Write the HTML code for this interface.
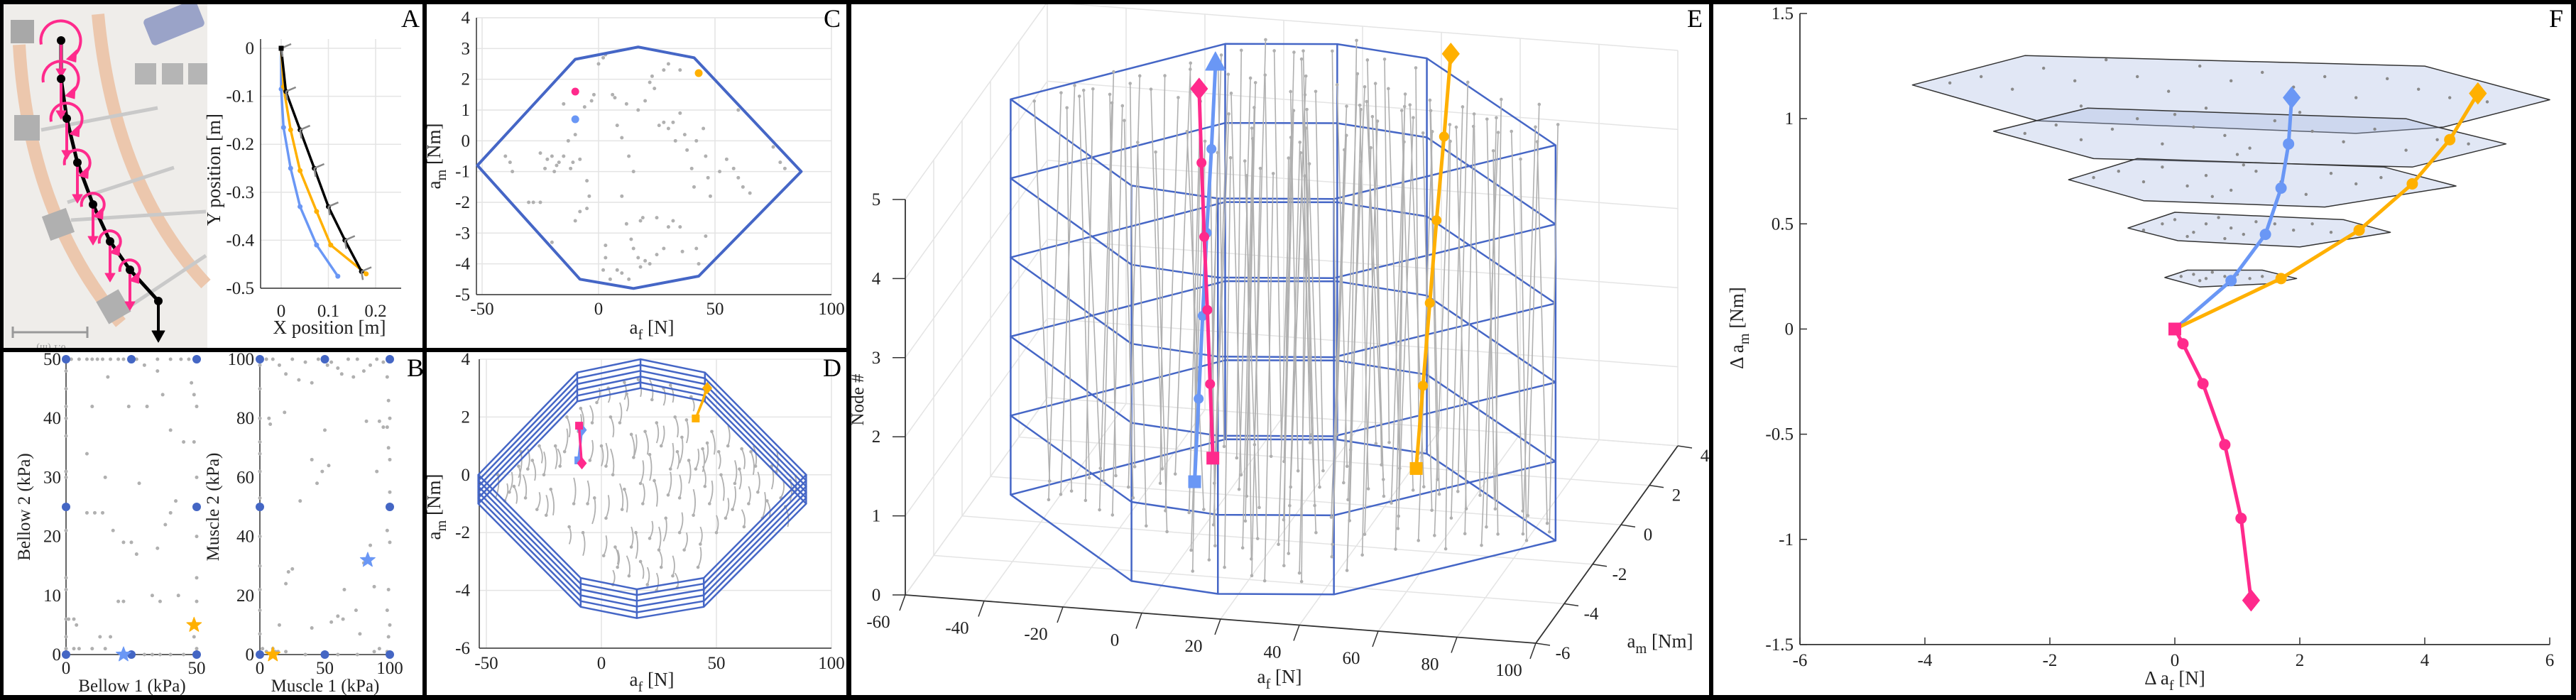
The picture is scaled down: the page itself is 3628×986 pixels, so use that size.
<!DOCTYPE html>
<html><head><meta charset="utf-8">
<style>
html,body{margin:0;padding:0;background:#fff;}
svg{display:block;font-family:"Liberation Serif",serif;}
text{font-family:"Liberation Serif",serif;}
</style></head>
<body>
<svg id="fig" xmlns="http://www.w3.org/2000/svg" width="3628" height="986" viewBox="0 0 3628 986" font-family="Liberation Serif, serif">
  <rect x="0" y="0" width="3628" height="986" fill="#fff"/>
  <g id="photo">
    <rect x="5" y="5" width="287" height="485" fill="#efedea"/>
    <path d="M27,63 Q40,300 170,455" stroke="#ecc7ad" stroke-width="18" fill="none"/>
    <path d="M138,20 Q160,260 290,400" stroke="#ecc7ad" stroke-width="18" fill="none"/>
    <line x1="58" y1="183" x2="222" y2="152" stroke="#c9c9c9" stroke-width="5"/>
    <line x1="95" y1="285" x2="245" y2="236" stroke="#c9c9c9" stroke-width="5"/>
    <line x1="100" y1="310" x2="290" y2="298" stroke="#c9c9c9" stroke-width="5"/>
    <line x1="170" y1="440" x2="290" y2="360" stroke="#c9c9c9" stroke-width="5"/>
    <rect x="205" y="12" width="80" height="40" rx="6" fill="#9aa3c8" transform="rotate(-22 245 32)"/>
    <rect x="15" y="28" width="33" height="33" fill="#a8a8a8"/>
    <rect x="20" y="162" width="36" height="36" fill="#b0b0b0"/>
    <rect x="64" y="298" width="36" height="36" fill="#b0b0b0" transform="rotate(-20 82 316)"/>
    <rect x="142" y="414" width="36" height="36" fill="#b0b0b0" transform="rotate(-30 160 432)"/>
    <rect x="190" y="89" width="30" height="30" fill="#b5b5b5"/>
    <rect x="228" y="89" width="30" height="30" fill="#b5b5b5"/>
    <rect x="265" y="89" width="27" height="30" fill="#b5b5b5"/>
    <line x1="18" y1="468" x2="123" y2="468" stroke="#999" stroke-width="3"/>
    <line x1="18" y1="460" x2="18" y2="476" stroke="#999" stroke-width="3"/>
    <line x1="123" y1="460" x2="123" y2="476" stroke="#999" stroke-width="3"/>
    <text x="72" y="478" font-size="14" fill="#999" text-anchor="middle" font-family="Liberation Serif, serif" transform="rotate(180 72 482)">0.1 (m)</text>
  </g>
  <g id="gA"></g>
  <g id="gB"></g>
  <g id="gC"></g>
  <g id="gD"></g>
  <g id="gE"></g>
  <g id="gF"></g>

  <g font-family="Liberation Serif, serif" font-size="36" text-anchor="middle">
  <text x="578" y="38">A</text>
  <text x="585" y="530">B</text>
  <text x="1172" y="38">C</text>
  <text x="1172" y="530">D</text>
  <text x="2387" y="38">E</text>
  <text x="3600" y="38">F</text>
  </g>

  <g fill="#000">
    <rect x="0" y="0" width="3628" height="6"/>
    <rect x="0" y="979" width="3628" height="7"/>
    <rect x="0" y="0" width="5" height="986"/>
    <rect x="3621" y="0" width="7" height="986"/>
    <rect x="595" y="0" width="6" height="986"/>
    <rect x="0" y="490" width="1196" height="6"/>
    <rect x="1192" y="0" width="7" height="986"/>
    <rect x="2407" y="0" width="6" height="986"/>
  </g>
</svg>
<script>
// ---------------- DATA ----------------
const aBlackX = [0, 0.01, 0.04, 0.07, 0.10, 0.135, 0.17];
const aBlackY = [0, -0.09, -0.17, -0.25, -0.33, -0.40, -0.465];
const aOrangeX = [0, 0.005, 0.02, 0.04, 0.075, 0.105, 0.18];
const aOrangeY = [0, -0.08, -0.17, -0.255, -0.34, -0.41, -0.47];
const aBlueX = [0, 0, 0.005, 0.02, 0.04, 0.075, 0.12];
const aBlueY = [0, -0.085, -0.165, -0.25, -0.33, -0.41, -0.475];
const aXTicks = [0, 0.1, 0.2];
const aYTicks = [0, -0.1, -0.2, -0.3, -0.4, -0.5];
const aYTickLabels = ["0", "-0.1", "-0.2", "-0.3", "-0.4", "-0.5"];

const bLeftGray = [[0,48],[0,45],[0,42],[0,40],[0,37],[0,31],[0,30],[0,21],[0,13],[0,11],[0,6],[0,3],[0,1],[1,6],[3,6],[4,5],[3,1],[5,1],[2,50],[5,50],[8,50],[10,50],[12,50],[14,50],[17,50],[20,50],[22,50],[27,50],[30,49],[35,50],[40,50],[44,50],[47,50],[49,50],[48,46],[49,44],[50,42],[49,36],[50,30],[50,20],[50,13],[50,9],[49,3],[50,1],[30,0],[33,0],[36,0],[40,0],[45,0],[8,34],[10,42],[16,47],[18,21],[22,19],[27,17],[31,42],[35,48],[37,44],[40,38],[45,36],[42,26],[40,24],[38,22],[35,18],[33,10],[36,9],[43,10],[20,9],[22,9],[8,24],[11,24],[14,24],[15,30],[28,29],[24,42],[25,19],[17,3],[13,3],[15,1],[10,1]];
const bLeftBlue = [[0,0],[25,0],[50,0],[0,25],[50,25],[0,50],[25,50],[50,50]];
const bLeftStarBlue = [22, 0];
const bLeftStarOrange = [49, 5];
const bRightGray = [[0,98],[0,90],[0,80],[0,72],[0,68],[0,62],[0,53],[0,40],[0,30],[0,22],[0,15],[0,7],[2,2],[5,1],[10,2],[14,1],[20,1],[5,100],[10,100],[15,98],[20,95],[25,100],[30,93],[35,99],[40,92],[45,100],[52,98],[55,99],[60,97],[63,95],[68,100],[72,94],[75,100],[80,96],[85,98],[90,100],[95,99],[98,94],[99,86],[100,80],[98,77],[99,70],[100,66],[100,55],[98,42],[100,38],[99,22],[98,15],[100,10],[99,6],[98,1],[92,2],[88,1],[75,0],[60,0],[35,0],[7,80],[8,78],[19,82],[22,28],[20,24],[25,29],[31,52],[40,66],[44,58],[50,76],[53,64],[48,62],[55,11],[60,13],[64,12],[74,15],[77,7],[82,79],[92,79],[95,77],[90,62],[85,37],[80,31],[88,23],[65,22],[40,9],[15,10],[12,1]];
const bRightBlue = [[0,0],[50,0],[100,0],[0,50],[100,50],[0,100],[50,100],[100,100]];
const bRightStarBlue = [83, 32];
const bRightStarOrange = [10, 0];
const bLeftTicks = [0,10,20,30,40,50];
const bLeftXTicks = [0,50];
const bRightTicks = [0,20,40,60,80,100];
const bRightXTicks = [0,50,100];

const cOctAf = [-52, -10, 17, 41, 87, 43, 15, -8];
const cOctAm = [-0.8, 2.65, 3.05, 2.7, -1.0, -4.4, -4.8, -4.5];
const cGray = [[-40,-0.5],[-38,-0.7],[-37,-1],[-30,-2],[-28,-2],[-25,-2],[-25,-0.4],[-23,-0.9],[-22,-0.6],[-20,-0.5],[-19,-1],[-18,-0.8],[-17,-0.7],[-15,-0.5],[-13,0],[-12,-0.9],[-11,-0.7],[-10,0.2],[-8,-0.6],[-6,1.1],[-5,-1.3],[-4,-1.8],[-5,-2.2],[-8,-2.3],[-10,-2.6],[-20,-3.3],[-15,1.2],[-3,1.3],[-2,1.5],[0,2.5],[2,2.7],[3,2.8],[6,1.5],[7,1.4],[8,0.5],[10,0.1],[12,1.2],[10,-1.8],[12,-2.7],[14,-3.2],[15,-3.5],[17,-3.8],[3,-3.4],[2,-4.2],[3,-3.8],[5,-4.5],[8,-4.2],[10,-4.3],[13,-4.5],[18,-4.1],[20,-3.9],[22,-4],[25,-3.7],[28,-3.5],[30,-2.8],[32,-2.6],[35,-2.8],[36,-3.6],[25,-2.5],[18,-2.6],[19,-2.5],[13,-0.5],[15,-1],[17,1],[20,1.3],[22,1.9],[23,2.1],[24,1.7],[26,0.5],[28,0.6],[30,0.4],[32,0.6],[33,0],[35,0.9],[37,0.2],[38,-0.3],[40,-0.9],[41,-1.5],[42,0],[45,0.4],[46,-0.5],[47,-1.2],[48,-1.8],[52,-1],[55,-0.6],[58,-0.9],[60,-1.2],[62,-1.5],[65,-1.7],[75,-0.2],[78,-0.7],[80,-0.9],[35,2.3],[30,2.5],[28,2.3],[60,1],[43,-4],[42,-3.5],[46,-3.1]];
const cPink = [-10, 1.6];
const cBlue = [-10, 0.7];
const cOrange = [43, 2.2];
const cXTicks = [-50, 0, 50, 100];
const cYTicks = [-5,-4,-3,-2,-1,0,1,2,3,4];

const dOctAf = [-53.5, -10.5, 17, 45, 89, 44.5, 15.4, -9];
const dOctAm = [0, 3.54, 4.0, 3.54, 0, -3.57, -3.96, -3.57];
const dLayerShift = [0, -0.2, -0.4, -0.6, -0.8, -1.0];
const trajGray = [[-45,0,-1,-0.8],[-40,-0.6,1,0.7],[-35,0.8,-1,-0.9],[-30,0.5,1,-0.7],[-25,0,0,0.8],[-22,-0.5,1,-0.9],[-20,1,0,-0.8],[-18,0.3,-1,0.6],[-15,2,1,-0.7],[-12,-1,0,0.9],[-10,1.5,1,0.6],[-8,-2,0,-0.8],[-5,0.5,1,0.7],[-3,-0.8,-1,-0.9],[-2,2.5,1,0.5],[0,1,0,-0.7],[2,-1.5,1,0.8],[3,3,0,-0.5],[5,0,-1,0.9],[6,-2.5,1,-0.6],[8,1.8,0,0.7],[10,-0.5,1,-0.8],[11,2.8,0,-0.6],[12,-3.5,-1,0.7],[14,0.6,1,0.8],[15,-2,0,-0.9],[16,3.3,1,-0.6],[18,-1,0,0.7],[19,1.5,1,-0.8],[20,-3.8,0,0.6],[22,2.6,-1,0.7],[23,-0.2,1,-0.9],[25,-2.6,0,0.8],[26,1,1,0.7],[27,3,0,-0.6],[28,-1.5,-1,-0.8],[30,0.2,1,0.9],[31,-3.5,0,0.7],[32,2,1,-0.7],[34,-0.8,0,0.8],[35,1.3,-1,-0.9],[36,-2.6,1,0.6],[38,0.5,0,-0.8],[39,2.7,1,-0.5],[40,-1.4,0,0.9],[42,-3.2,1,0.7],[44,0.9,0,-0.8],[45,-0.4,-1,0.7],[48,1.5,1,-0.8],[50,-2,0,0.6],[52,0,1,-0.9],[55,1,0,0.7],[57,-1.2,1,0.8],[60,0.2,0,-0.7],[62,-1.8,-1,0.6],[65,0.8,1,-0.8],[68,-0.6,0,0.7],[70,-1.5,1,0.9],[74,0.3,0,-0.8],[78,-0.8,1,0.6],[82,-0.2,0,-0.7],[-28,-1.2,1,0.6],[-32,0.2,0,0.7],[-38,-0.4,1,-0.6],[5,-3.8,0,0.5],[17,-3,1,-0.6],[24,-4,0,0.6],[33,-3.9,-1,0.5],[10,3.2,0,-0.6],[30,3.1,1,-0.6],
[-42,-0.9,1,0.6],[-36,0.3,0,-0.7],[-33,-0.8,-1,0.8],[-27,1.0,1,-0.6],[-24,-1.4,0,0.7],[-16,0.8,1,0.8],[-14,-1.8,0,-0.6],[-9,2.3,1,-0.7],[-6,-1.0,0,0.8],[-4,1.8,-1,0.6],[1,-2.8,1,0.7],[2,0.3,0,0.8],[4,2.0,1,-0.7],[7,-3.2,0,0.6],[9,-1.2,-1,0.9],[13,1.4,1,-0.8],[13,-2.5,0,0.7],[17,-0.3,1,0.8],[21,0.7,0,-0.9],[21,-2.2,1,0.6],[24,1.8,0,-0.7],[26,-3.2,-1,0.6],[29,-0.7,1,0.8],[33,0.8,0,-0.6],[34,-2.0,1,0.7],[37,1.9,0,-0.8],[41,0.2,1,0.7],[43,-2.4,0,0.6],[46,1.1,-1,-0.7],[47,-1.0,1,0.8],[51,0.8,0,-0.6],[54,-1.5,1,0.7],[58,-0.3,0,0.8],[61,0.9,1,-0.7],[64,-1.0,0,0.6],[67,0.3,-1,0.7],[72,-0.9,1,-0.6],[76,0.1,0,0.8],[80,-1.1,1,-0.7],[84,-0.6,0,0.6]];
const pinkAf = [-9.7, -9.5, -9.3, -9.0, -8.8, -8.5];
const pinkAm = [1.7, 1.45, 1.2, 0.9, 0.65, 0.4];
const blueAf = [-10, -9.7, -9.4, -9.1, -8.8, -8.5];
const blueAm = [0.5, 0.7, 0.9, 1.1, 1.35, 1.55];
const orangeAf = [41, 42, 43, 44, 45, 46];
const orangeAm = [1.95, 2.15, 2.35, 2.55, 2.8, 3.0];
const dXTicks = [-50, 0, 50, 100];
const dYTicks = [-6, -4, -2, 0, 2, 4];
const eAfTicks = [-60,-40,-20,0,20,40,60,80,100];
const eAmTicks = [-6,-4,-2,0,2,4];
const eZTicks = [0,1,2,3,4,5];

const fBlueX = [0, 0.9, 1.45, 1.7, 1.82, 1.87];
const fBlueY = [0, 0.23, 0.45, 0.67, 0.88, 1.1];
const fOrangeX = [0, 1.7, 2.95, 3.8, 4.4, 4.85];
const fOrangeY = [0, 0.24, 0.47, 0.69, 0.9, 1.12];
const fPinkX = [0, 0.13, 0.45, 0.8, 1.06, 1.22];
const fPinkY = [0, -0.07, -0.26, -0.55, -0.9, -1.29];
const fPoly1 = [[-0.16,0.245],[0.2,0.28],[1.4,0.28],[1.95,0.24],[1.5,0.215],[0.4,0.2]];
const fPoly2 = [[-0.75,0.48],[0,0.555],[2.7,0.52],[3.45,0.46],[2.0,0.39],[0.05,0.42]];
const fPoly3 = [[-1.7,0.71],[-0.6,0.81],[3.35,0.77],[4.5,0.68],[2.4,0.58],[-0.5,0.61]];
const fPoly4 = [[-2.9,0.94],[-1.4,1.05],[3.7,1.0],[4.2,0.96],[5.3,0.88],[3.8,0.77],[-1.3,0.81]];
const fPoly5 = [[-4.2,1.16],[-2.4,1.3],[4.0,1.25],[6.0,1.09],[4.3,0.96],[2.9,0.93],[-2.2,0.99]];
const fDots = [[0.1,0.25],[0.3,0.26],[0.5,0.24],[0.6,0.27],[0.8,0.25],[1.0,0.26],[1.2,0.24],[0.4,0.23],[0.9,0.22],[1.4,0.25],[-0.5,0.47],[-0.2,0.5],[0,0.52],[0.3,0.46],[0.5,0.5],[0.7,0.53],[0.9,0.48],[1.1,0.45],[1.3,0.51],[1.6,0.5],[1.9,0.47],[2.2,0.5],[2.5,0.46],[0.2,0.44],[0.8,0.43],[-1.3,0.72],[-0.9,0.75],[-0.5,0.7],[-0.2,0.77],[0.2,0.68],[0.5,0.73],[0.9,0.66],[1.3,0.75],[1.7,0.7],[2.1,0.64],[2.5,0.74],[2.9,0.69],[3.3,0.72],[3.8,0.68],[0.6,0.63],[1.1,0.78],[-2.4,0.93],[-1.9,0.97],[-1.5,0.9],[-1,0.95],[-0.6,1.0],[-0.2,0.88],[0.3,0.96],[0.8,0.92],[1.2,0.86],[1.6,0.99],[2.2,0.94],[2.7,0.89],[3.2,0.95],[3.7,0.85],[4.2,0.9],[4.7,0.88],[0,1.02],[1,0.83],[-3.6,1.17],[-3.1,1.2],[-2.6,1.14],[-2.1,1.24],[-1.6,1.18],[-1.1,1.28],[-0.6,1.2],[-0.1,1.13],[0.4,1.25],[0.9,1.18],[1.4,1.22],[1.9,1.15],[2.4,1.2],[2.9,1.1],[3.4,1.19],[3.9,1.14],[4.4,1.1],[5,1.08],[-1.5,1.06],[0.5,1.05],[2,1.03]];
const fXTicks = [-6,-4,-2,0,2,4,6];
const fYTicks = [1.5,1,0.5,0,-0.5,-1,-1.5];
const fYTickLabels = ["1.5","1","0.5","0","-0.5","-1","-1.5"];

const chainX = [86, 86, 94, 109, 131, 155, 183, 223];
const chainY = [57, 111, 167, 229, 288, 340, 380, 424];
const chainR = [28, 25, 22, 18, 16, 15, 14];

// ---------------- DRAWING ----------------
const NS = 'http://www.w3.org/2000/svg';
const PINK = '#ff2a8c', BLUE = '#6a97f5', ORANGE = '#ffb000', FRAME = '#4566c6', GRAY = '#b0b0b0', GRID = '#e4e4e4';
function mk(parent, tag, attrs, name) {
  const e = document.createElementNS(NS, tag);
  for (const k in attrs) e.setAttribute(k, attrs[k]);
  
  
  parent.appendChild(e);
  return e;
}
function line(p, x1, y1, x2, y2, stroke, w, name) {
  return mk(p, 'line', {x1: x1, y1: y1, x2: x2, y2: y2, stroke: stroke, 'stroke-width': w}, name);
}
function text(p, x, y, s, size, anchor, name, rot) {
  const t = mk(p, 'text', {x: x, y: y, 'font-size': size, 'text-anchor': anchor, fill: '#222', 'font-family': 'Liberation Serif, serif'}, name);
  if (rot) t.setAttribute('transform', 'rotate(' + rot + ' ' + x + ' ' + y + ')');
  t.textContent = s;
  return t;
}
function subLabel(p, x, y, base, sub, rest, size, name, rot) {
  const t = mk(p, 'text', {x: x, y: y, 'font-size': size, 'text-anchor': 'middle', fill: '#222', 'font-family': 'Liberation Serif, serif'}, name);
  if (rot) t.setAttribute('transform', 'rotate(' + rot + ' ' + x + ' ' + y + ')');
  const a = document.createElementNS(NS, 'tspan'); a.textContent = base; t.appendChild(a);
  const b = document.createElementNS(NS, 'tspan'); b.setAttribute('dy', size * 0.3); b.setAttribute('font-size', size * 0.75); b.textContent = sub; t.appendChild(b);
  const c = document.createElementNS(NS, 'tspan'); c.setAttribute('dy', -size * 0.3); c.textContent = rest; t.appendChild(c);
  return t;
}
function poly(p, pts, stroke, w, fill, name, closed) {
  const d = pts.map(q => q[0].toFixed(1) + ',' + q[1].toFixed(1)).join(' ');
  return mk(p, closed ? 'polygon' : 'polyline', {points: d, stroke: stroke, 'stroke-width': w, fill: fill || 'none', 'stroke-linejoin': 'round'}, name);
}
function dot(p, x, y, r, fill, name) { return mk(p, 'circle', {cx: x, cy: y, r: r, fill: fill}, name); }
function square(p, x, y, s, fill, name) { return mk(p, 'rect', {x: x - s / 2, y: y - s / 2, width: s, height: s, fill: fill}, name); }
function diamond(p, x, y, s, fill, name) { return poly(p, [[x, y - s], [x + s * 0.8, y], [x, y + s], [x - s * 0.8, y]], fill, 1, fill, name, true); }
function star(p, x, y, r, fill, name) {
  const pts = [];
  for (let i = 0; i < 10; i++) { const a = -Math.PI / 2 + i * Math.PI / 5; const rr = i % 2 ? r * 0.42 : r; pts.push([x + rr * Math.cos(a), y + rr * Math.sin(a)]); }
  return poly(p, pts, fill, 1, fill, name, true);
}

const photo = document.getElementById('photo');
(function () {
  const pts = chainX.map((x, i) => [x, chainY[i]]);
  poly(photo, pts, '#000', 5, 'none', 'robot-chain', false);
  line(photo, 223, 424, 223, 470, '#000', 4, 'gravity-arrow-shaft');
  poly(photo, [[214, 466], [232, 466], [223, 482]], '#000', 1, '#000', 'gravity-arrow-head', true);
  for (let i = 0; i < chainX.length - 1; i++) {
    const cx = chainX[i], cy = chainY[i], r = chainR[i];
    const sx = cx - r, sy = cy + 0.2 * r, ex = cx + 0.6 * r, ey = cy + 0.8 * r;
    mk(photo, 'path', {d: 'M' + sx + ',' + sy + ' A' + r + ',' + r + ' 0 1 1 ' + ex + ',' + ey, stroke: PINK, 'stroke-width': 4, fill: 'none'}, 'moment-arrow-arc');
    poly(photo, [[ex - 9, ey + 4], [ex + 5, ey - 9], [ex + 4, ey + 8]], PINK, 1, PINK, 'moment-arrow-head', true);
    const len = i === 0 ? 50 : 55;
    line(photo, cx, cy, cx, cy + len - 8, PINK, 4, 'force-arrow-shaft');
    poly(photo, [[cx - 7, cy + len - 10], [cx + 7, cy + len - 10], [cx, cy + len + 2]], PINK, 1, PINK, 'force-arrow-head', true);
  }
  chainX.forEach((x, i) => { dot(photo, x, chainY[i], 6, '#000', 'chain-node'); });
})();

const gA = document.getElementById('gA');
const xA = v => 396 + v * 665, yA = v => 68 - v * 676;
aXTicks.forEach(v => line(gA, xA(v), 55, xA(v), 406, GRID, 1.5, 'a-x-gridline'));
aYTicks.forEach(v => line(gA, 367, yA(v), 565, yA(v), GRID, 1.5, 'a-y-gridline'));
line(gA, 367, 55, 367, 406, '#333', 1.5, 'a-y-axis');
line(gA, 367, 406, 565, 406, '#333', 1.5, 'a-x-axis');
aXTicks.forEach(v => text(gA, xA(v), 446, String(v), 25, 'middle', 'a-x-tick-label'));
aYTicks.forEach((v, i) => text(gA, 358, yA(v) + 8, aYTickLabels[i], 25, 'end', 'a-y-tick-label'));
text(gA, 464, 470, 'X position [m]', 27, 'middle', 'a-x-axis-title');
text(gA, 310, 239, 'Y position [m]', 27, 'middle', 'a-y-axis-title', -90);
function seriesA(xs, ys, color, name) {
  poly(gA, xs.map((x, i) => [xA(x), yA(ys[i])]), color, 3.5, 'none', name + '-line', false);
  xs.forEach((x, i) => dot(gA, xA(x), yA(ys[i]), 3.5, color, name + '-node'));
}
seriesA(aBlueX, aBlueY, BLUE, 'a-blue-series');
seriesA(aOrangeX, aOrangeY, ORANGE, 'a-orange-series');
seriesA(aBlackX, aBlackY, '#000', 'a-black-series');
aBlackX.forEach((x, i) => {
  const px = xA(x), py = yA(aBlackY[i]);
  line(gA, px, py, px + 14, py - 6, '#888', 2.5, 'a-force-arrow');
  line(gA, px, py, px + 2, py + 12, '#888', 2.5, 'a-force-arrow');
});
square(gA, xA(0), yA(0), 7, '#000', 'a-start-square');

const gB = document.getElementById('gB');
const xB1 = v => 93 + v * 3.68, yB1 = v => 922 - v * 8.32;
const xB2 = v => 366 + v * 1.83, yB2 = v => 922 - v * 4.16;
line(gB, 93, 506, 93, 922, '#333', 1.5, 'b-left-y-axis');
line(gB, 93, 922, 277, 922, '#333', 1.5, 'b-left-x-axis');
line(gB, 366, 506, 366, 922, '#333', 1.5, 'b-right-y-axis');
line(gB, 366, 922, 549, 922, '#333', 1.5, 'b-right-x-axis');
bLeftTicks.forEach(v => text(gB, 86, yB1(v) + 8, String(v), 25, 'end', 'b-left-y-tick-label'));
bLeftXTicks.forEach(v => text(gB, xB1(v), 949, String(v), 25, 'middle', 'b-left-x-tick-label'));
bRightTicks.forEach(v => text(gB, 358, yB2(v) + 8, String(v), 25, 'end', 'b-right-y-tick-label'));
bRightXTicks.forEach(v => text(gB, xB2(v), 949, String(v), 25, 'middle', 'b-right-x-tick-label'));
text(gB, 186, 974, 'Bellow 1 (kPa)', 25, 'middle', 'b-left-x-axis-title');
text(gB, 458, 974, 'Muscle 1 (kPa)', 25, 'middle', 'b-right-x-axis-title');
text(gB, 42, 714, 'Bellow 2 (kPa)', 25, 'middle', 'b-left-y-axis-title', -90);
text(gB, 308, 714, 'Muscle 2 (kPa)', 25, 'middle', 'b-right-y-axis-title', -90);
bLeftGray.forEach(q => dot(gB, xB1(q[0]), yB1(q[1]), 2.5, GRAY, 'b-left-sample'));
bRightGray.forEach(q => dot(gB, xB2(q[0]), yB2(q[1]), 2.5, GRAY, 'b-right-sample'));
bLeftBlue.forEach(q => dot(gB, xB1(q[0]), yB1(q[1]), 6, '#4466c4', 'b-left-corner-point'));
bRightBlue.forEach(q => dot(gB, xB2(q[0]), yB2(q[1]), 6, '#4466c4', 'b-right-corner-point'));
star(gB, xB1(bLeftStarBlue[0]), yB1(bLeftStarBlue[1]), 11, BLUE, 'b-left-blue-star');
star(gB, xB1(bLeftStarOrange[0]), yB1(bLeftStarOrange[1]), 11, ORANGE, 'b-left-orange-star');
star(gB, xB2(bRightStarBlue[0]), yB2(bRightStarBlue[1]), 11, BLUE, 'b-right-blue-star');
star(gB, xB2(bRightStarOrange[0]), yB2(bRightStarOrange[1]), 11, ORANGE, 'b-right-orange-star');

const gC = document.getElementById('gC');
const xC = v => 679 + (v + 50) * 3.28, yC = v => 25 + (4 - v) * 43.33;
cXTicks.forEach(v => line(gC, xC(v), yC(4), xC(v), yC(-5), GRID, 1.5, 'c-x-gridline'));
cYTicks.forEach(v => line(gC, 671, yC(v), 1171, yC(v), GRID, 1.5, 'c-y-gridline'));
line(gC, 671, yC(4), 671, yC(-5), '#333', 1.5, 'c-y-axis');
line(gC, 671, yC(-5), 1171, yC(-5), '#333', 1.5, 'c-x-axis');
cXTicks.forEach(v => text(gC, xC(v), 443, String(v), 25, 'middle', 'c-x-tick-label'));
cYTicks.forEach(v => text(gC, 662, yC(v) + 8, String(v), 25, 'end', 'c-y-tick-label'));
subLabel(gC, 918, 470, 'a', 'f', ' [N]', 27, 'c-x-axis-title');
subLabel(gC, 620, 220, 'a', 'm', ' [Nm]', 27, 'c-y-axis-title', -90);
cGray.forEach(q => dot(gC, xC(q[0]), yC(q[1]), 2.5, GRAY, 'c-sample'));
poly(gC, cOctAf.map((a, i) => [xC(a), yC(cOctAm[i])]), FRAME, 4, 'none', 'c-feasible-octagon', true);
dot(gC, xC(cPink[0]), yC(cPink[1]), 5.5, PINK, 'c-pink-point');
dot(gC, xC(cBlue[0]), yC(cBlue[1]), 5.5, BLUE, 'c-blue-point');
dot(gC, xC(cOrange[0]), yC(cOrange[1]), 5.5, ORANGE, 'c-orange-point');

const gD = document.getElementById('gD');
const xD = v => 685 + (v + 50) * 3.24, yD = v => 506 + (4 - v) * 40.7;
dXTicks.forEach(v => line(gD, xD(v), yD(4), xD(v), yD(-6), GRID, 1.5, 'd-x-gridline'));
dYTicks.forEach(v => line(gD, 675, yD(v), 1171, yD(v), GRID, 1.5, 'd-y-gridline'));
line(gD, 675, yD(4), 675, yD(-6), '#333', 1.5, 'd-y-axis');
line(gD, 675, yD(-6), 1171, yD(-6), '#333', 1.5, 'd-x-axis');
dXTicks.forEach(v => text(gD, xD(v), 942, String(v), 25, 'middle', 'd-x-tick-label'));
dYTicks.forEach(v => text(gD, 662, yD(v) + 8, String(v), 25, 'end', 'd-y-tick-label'));
subLabel(gD, 918, 966, 'a', 'f', ' [N]', 27, 'd-x-axis-title');
subLabel(gD, 620, 714, 'a', 'm', ' [Nm]', 27, 'd-y-axis-title', -90);
trajGray.forEach(t => {
  const x1 = xD(t[0]), y1 = yD(t[1]), x2 = xD(t[0] + t[2]), y2 = yD(t[1] + t[3]);
  mk(gD, 'path', {d: 'M' + x1 + ',' + y1 + ' Q' + ((x1 + x2) / 2 + 5) + ',' + ((y1 + y2) / 2) + ' ' + x2 + ',' + y2, stroke: GRAY, 'stroke-width': 1.8, fill: 'none'}, 'd-gray-trajectory');
  dot(gD, x1, y1, 2.3, GRAY, 'd-trajectory-start');
});
dLayerShift.forEach((s, k) => {
  poly(gD, dOctAf.map((a, i) => [xD(a), yD(dOctAm[i] + s)]), FRAME, 2.5, 'none', 'd-octagon-layer', true);
});
dOctAf.forEach((a, i) => line(gD, xD(a), yD(dOctAm[i]), xD(a), yD(dOctAm[i] + dLayerShift[5]), FRAME, 2.5, 'd-octagon-edge'));
function seriesD(afs, ams, color, name) {
  poly(gD, afs.map((a, i) => [xD(a), yD(ams[i])]), color, 3.5, 'none', name + '-line', false);
  const n = afs.length - 1;
  square(gD, xD(afs[0]), yD(ams[0]), 11, color, name + '-start');
  diamond(gD, xD(afs[n]), yD(ams[n]), 8, color, name + '-end');
}
seriesD(blueAf, blueAm, BLUE, 'd-blue-series');
seriesD(pinkAf, pinkAm, PINK, 'd-pink-series');
seriesD(orangeAf, orangeAm, ORANGE, 'd-orange-series');

const gE = document.getElementById('gE');
const PX = (af, am, z) => 1275 + (af + 60) / 160 * 888 + (am + 6) / 10 * 200;
const PY = (af, am, z) => 838 + (af + 60) / 160 * 68 - (am + 6) / 10 * 278 - z * 111.4;
function l3(p, a, b, stroke, w, name) { return line(p, PX(a[0], a[1], a[2]), PY(a[0], a[1], a[2]), PX(b[0], b[1], b[2]), PY(b[0], b[1], b[2]), stroke, w, name); }
eAfTicks.forEach(v => { l3(gE, [v, -6, 0], [v, 4, 0], GRID, 1.5, 'e-floor-gridline'); l3(gE, [v, 4, 0], [v, 4, 5], GRID, 1.5, 'e-backwall-gridline'); });
eAmTicks.forEach(v => { l3(gE, [-60, v, 0], [100, v, 0], GRID, 1.5, 'e-floor-gridline'); l3(gE, [-60, v, 0], [-60, v, 5], GRID, 1.5, 'e-sidewall-gridline'); });
eZTicks.forEach(v => { l3(gE, [-60, 4, v], [100, 4, v], GRID, 1.5, 'e-backwall-gridline'); l3(gE, [-60, -6, v], [-60, 4, v], GRID, 1.5, 'e-sidewall-gridline'); });
l3(gE, [-60, -6, 0], [100, -6, 0], '#333', 1.8, 'e-af-axis');
l3(gE, [100, -6, 0], [100, 4, 0], '#333', 1.8, 'e-am-axis');
l3(gE, [-60, -6, 0], [-60, -6, 5], '#333', 1.8, 'e-z-axis');
eAfTicks.forEach(v => {
  const x = PX(v, -6, 0), y = PY(v, -6, 0);
  line(gE, x, y, x - 8, y + 22, '#333', 1.5, 'e-af-tick');
  text(gE, x - 38, y + 46, String(v), 25, 'middle', 'e-af-tick-label');
});
eAmTicks.forEach(v => {
  const x = PX(100, v, 0), y = PY(100, v, 0);
  line(gE, x, y, x + 20, y + 3, '#333', 1.5, 'e-am-tick');
  text(gE, x + 38, y + 22, String(v), 25, 'middle', 'e-am-tick-label');
});
eZTicks.forEach(v => {
  const x = PX(-60, -6, v), y = PY(-60, -6, v);
  line(gE, x, y, x - 18, y, '#333', 1.5, 'e-z-tick');
  text(gE, 1234, y + 8, String(v), 25, 'middle', 'e-z-tick-label');
});
subLabel(gE, 1802, 962, 'a', 'f', ' [N]', 27, 'e-af-axis-title');
subLabel(gE, 2338, 912, 'a', 'm', ' [Nm]', 27, 'e-am-axis-title');
text(gE, 1216, 563, 'Node #', 25, 'middle', 'e-z-axis-title', -90);
eZTicks.forEach(z => {
  poly(gE, cOctAf.map((a, i) => [PX(a, cOctAm[i], z), PY(a, cOctAm[i], z)]), FRAME, 2.5, 'none', 'e-octagon-layer', true);
});
cOctAf.forEach((a, i) => l3(gE, [a, cOctAm[i], 0], [a, cOctAm[i], 5], FRAME, 2.5, 'e-prism-edge'));
trajGray.forEach(t => {
  l3(gE, [t[0], t[1], 0], [t[0] + t[2], t[1] + t[3], 5], GRAY, 1.6, 'e-gray-trajectory');
  dot(gE, PX(t[0], t[1], 0), PY(t[0], t[1], 0), 2.3, GRAY, 'e-trajectory-start');
  dot(gE, PX(t[0] + t[2], t[1] + t[3], 5), PY(t[0] + t[2], t[1] + t[3], 5), 2.3, GRAY, 'e-trajectory-end');
});
function seriesE(afs, ams, color, name, endShape) {
  const pts = afs.map((a, i) => [PX(a, ams[i], i), PY(a, ams[i], i)]);
  poly(gE, pts, color, 5, 'none', name + '-line', false);
  pts.forEach((p, i) => { if (i > 0 && i < pts.length - 1) dot(gE, p[0], p[1], 7, color, name + '-node'); });
  square(gE, pts[0][0], pts[0][1], 18, color, name + '-start');
  const e = pts[pts.length - 1];
  if (endShape === 'tri') poly(gE, [[e[0], e[1] - 20], [e[0] + 14, e[1] + 6], [e[0] - 14, e[1] + 6]], color, 1, color, name + '-end', true);
  else diamond(gE, e[0], e[1], 15, color, name + '-end');
}
seriesE(blueAf, blueAm, BLUE, 'e-blue-series', 'tri');
seriesE(pinkAf, pinkAm, PINK, 'e-pink-series', 'dia');
seriesE(orangeAf, orangeAm, ORANGE, 'e-orange-series', 'dia');

const gF = document.getElementById('gF');
const xF = v => 2535 + (v + 6) * 88, yF = v => 19 + (1.5 - v) * 296.3;
line(gF, 2535, yF(1.5), 2535, yF(-1.5), '#333', 1.8, 'f-y-axis');
line(gF, 2535, yF(-1.5), 3591, yF(-1.5), '#333', 1.8, 'f-x-axis');
fXTicks.forEach(v => { line(gF, xF(v), yF(-1.5), xF(v), yF(-1.5) - 10, '#333', 1.5, 'f-x-tick'); text(gF, xF(v), 938, String(v), 25, 'middle', 'f-x-tick-label'); });
fYTicks.forEach((v, i) => { line(gF, 2535, yF(v), 2545, yF(v), '#333', 1.5, 'f-y-tick'); text(gF, 2526, yF(v) + 8, fYTickLabels[i], 25, 'end', 'f-y-tick-label'); });
subLabel(gF, 3063, 964, '\u0394 a', 'f', ' [N]', 27, 'f-x-axis-title');
subLabel(gF, 2455, 462, '\u0394 a', 'm', ' [Nm]', 27, 'f-y-axis-title', -90);
[fPoly5, fPoly4, fPoly3, fPoly2, fPoly1].forEach((P, k) => {
  poly(gF, P.map(q => [xF(q[0]), yF(q[1])]), '#333', 1.5, 'rgba(170,185,225,0.35)', 'f-reach-polygon', true);
});
fDots.forEach(q => dot(gF, xF(q[0]), yF(q[1]), 2.2, '#8a8a8a', 'f-sample'));
function seriesF(xs, ys, color, name) {
  poly(gF, xs.map((x, i) => [xF(x), yF(ys[i])]), color, 5, 'none', name + '-line', false);
  xs.forEach((x, i) => { if (i > 0 && i < xs.length - 1) dot(gF, xF(x), yF(ys[i]), 8, color, name + '-node'); });
  const n = xs.length - 1;
  diamond(gF, xF(xs[n]), yF(ys[n]), 15, color, name + '-end');
}
seriesF(fBlueX, fBlueY, BLUE, 'f-blue-series');
seriesF(fOrangeX, fOrangeY, ORANGE, 'f-orange-series');
seriesF(fPinkX, fPinkY, PINK, 'f-pink-series');
square(gF, xF(0), yF(0), 18, PINK, 'f-origin-square');
</script>
</body></html>
